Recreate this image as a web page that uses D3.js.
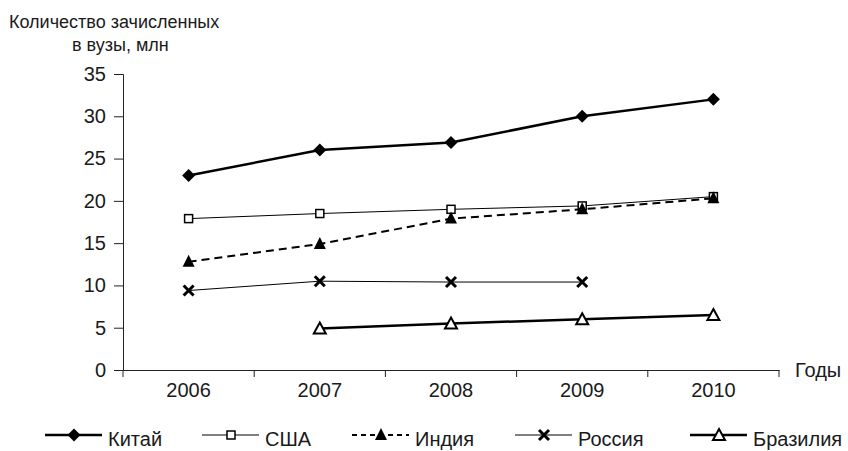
<!DOCTYPE html>
<html lang="ru">
<head>
  <meta charset="UTF-8">
  <script src="https://d3js.org/d3.v7.min.js"></script>
  <style>
    body { margin: 0; background: #fff; }
    svg { display: block; font-family: "Liberation Sans", Arial, sans-serif; }
    text { fill: #1a1a1a; }
  </style>
</head>
<body>
<svg width="848" height="451"></svg>
<script>
  // data
  const years = ['2006', '2007', '2008', '2009', '2010'];
  const yTicks = [0, 5, 10, 15, 20, 25, 30, 35];
  const china  = [23, 26, 26.9, 30, 32];
  const usa    = [17.9, 18.5, 19.0, 19.4, 20.5];
  const india  = [12.8, 14.9, 17.9, 19.0, 20.3];
  const russia = [9.4, 10.5, 10.4, 10.4, null];
  const brazil = [null, 4.9, 5.5, 6.0, 6.5];

  const series = [
    { name: 'Китай', values: china, width: 2.5, dash: null, marker: 'diamond', lx: 45 },
    { name: 'США', values: usa, width: 1, dash: null, marker: 'square', lx: 202 },
    { name: 'Индия', values: india, width: 2, dash: '8,5', marker: 'triangle', lx: 352 },
    { name: 'Россия', values: russia, width: 1, dash: null, marker: 'cross', lx: 515 },
    { name: 'Бразилия', values: brazil, width: 2.5, dash: null, marker: 'opentri', lx: 690 }
  ];

  const svg = d3.select('svg');
  const x = d3.scaleBand().domain(years).range([123, 779]);
  const y = d3.scaleLinear().domain([0, 35]).range([370, 74]);

  // axes
  const yAxis = svg.append('g').attr('transform', 'translate(123,0)')
    .call(d3.axisLeft(y).tickValues(yTicks).tickSize(9).tickPadding(8));
  yAxis.selectAll('text').style('font-size', '20px').attr('font-family', null);

  const xAxis = svg.append('g').attr('transform', 'translate(0,370)')
    .call(d3.axisBottom(x).tickSize(0).tickPadding(13));
  xAxis.selectAll('text').style('font-size', '20px').attr('font-family', null);
  // ticks at the category boundaries
  const bounds = years.map(d => x(d)).concat([x.range()[1]]);
  xAxis.selectAll('.bt').data(bounds).enter().append('line')
    .attr('x1', d => d).attr('x2', d => d).attr('y1', 0).attr('y2', 7)
    .attr('stroke', '#222');
  svg.selectAll('.domain').attr('stroke', '#222');
  svg.selectAll('.tick line').attr('stroke', '#222');
  svg.selectAll('.tick text').attr('fill', '#1a1a1a');

  svg.append('text').attr('x', 9).attr('y', 28).style('font-size', '18px').text('Количество зачисленных');
  svg.append('text').attr('x', 72).attr('y', 51).style('font-size', '18px').text('в вузы, млн');
  svg.append('text').attr('x', 795).attr('y', 377).style('font-size', '20px').text('Годы');

  function drawMarker(g, type, cx, cy) {
    if (type === 'diamond') {
      g.append('path').attr('d', `M${cx},${cy - 6.5}L${cx + 6.5},${cy}L${cx},${cy + 6.5}L${cx - 6.5},${cy}Z`)
        .attr('fill', '#000');
    } else if (type === 'square') {
      g.append('rect').attr('x', cx - 4).attr('y', cy - 4).attr('width', 8).attr('height', 8)
        .attr('fill', '#fff').attr('stroke', '#000').attr('stroke-width', 1.5);
    } else if (type === 'triangle') {
      g.append('path').attr('d', `M${cx},${cy - 7}L${cx + 6},${cy + 5}L${cx - 6},${cy + 5}Z`)
        .attr('fill', '#000');
    } else if (type === 'cross') {
      g.append('path').attr('d', `M${cx - 5},${cy - 5}L${cx + 5},${cy + 5}M${cx + 5},${cy - 5}L${cx - 5},${cy + 5}`)
        .attr('stroke', '#000').attr('stroke-width', 3);
    } else if (type === 'opentri') {
      g.append('path').attr('d', `M${cx},${cy - 6}L${cx + 6},${cy + 5}L${cx - 6},${cy + 5}Z`)
        .attr('fill', '#fff').attr('stroke', '#000').attr('stroke-width', 2);
    }
  }

  const line = d3.line()
    .defined(d => d.v != null)
    .x(d => x(d.year) + x.bandwidth() / 2)
    .y(d => y(d.v));

  series.forEach(s => {
    const pts = years.map((yr, i) => ({ year: yr, v: s.values[i] }));
    const g = svg.append('g');
    g.append('path').datum(pts).attr('d', line)
      .attr('fill', 'none').attr('stroke', '#000')
      .attr('stroke-width', s.width)
      .attr('stroke-dasharray', s.dash);
    pts.filter(p => p.v != null).forEach(p => {
      drawMarker(g, s.marker, x(p.year) + x.bandwidth() / 2, y(p.v));
    });

    // legend
    const ly = 435;
    const lg = svg.append('g');
    lg.append('line').attr('x1', s.lx).attr('x2', s.lx + 57).attr('y1', ly).attr('y2', ly)
      .attr('stroke', '#000').attr('stroke-width', s.width)
      .attr('stroke-dasharray', s.dash ? '5,4' : null);
    drawMarker(lg, s.marker, s.lx + 29, ly);
    lg.append('text').attr('x', s.lx + 63).attr('y', ly + 11).style('font-size', '20px').text(s.name);
  });
</script>
</body>
</html>
